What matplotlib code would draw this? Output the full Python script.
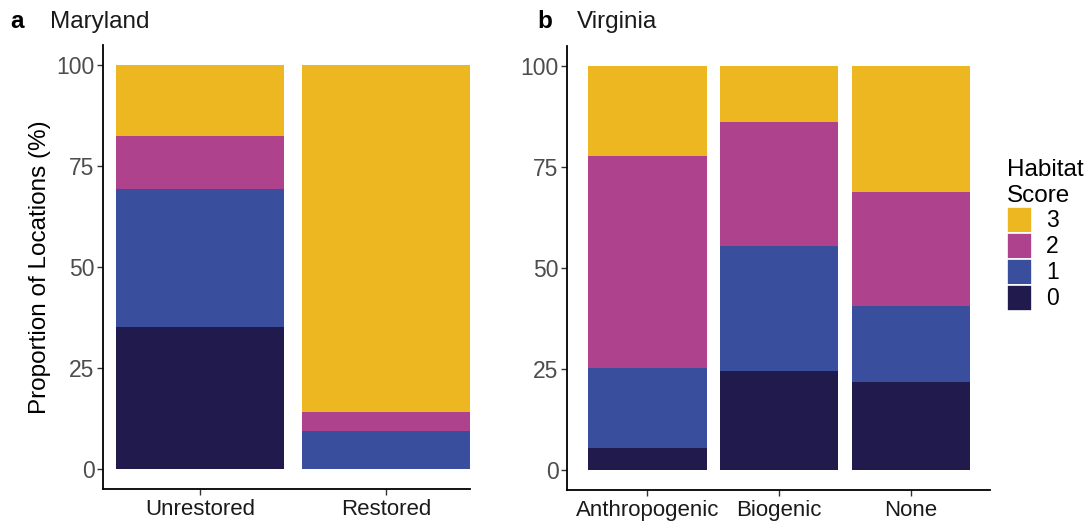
import numpy as np
import matplotlib.pyplot as plt
from matplotlib.patches import Patch

# habitat score proportions (%), score 0..3 bottom to top
md_sites = ["Unrestored", "Restored"]
md_score0 = [35.1, 0.0]
md_score1 = [34.2, 9.4]
md_score2 = [13.1, 4.7]
md_score3 = [17.6, 85.9]

va_sites = ["Anthropogenic", "Biogenic", "None"]
va_score0 = [5.4, 24.5, 21.8]
va_score1 = [19.8, 30.9, 18.8]
va_score2 = [52.5, 30.7, 28.2]
va_score3 = [22.3, 13.9, 31.2]

scores = ["0", "1", "2", "3"]
colors = ["#211B4D", "#3A4E9E", "#AF428C", "#EDB722"]

plt.rcParams['font.family'] = ['Liberation Sans', 'DejaVu Sans']
plt.rcParams['font.size'] = 16

fig = plt.figure(figsize=(10.91, 5.22), dpi=100)
W, H = 1091.0, 522.0
ax_a = fig.add_axes([103 / W, (H - 489) / H, (470 - 103) / W, (489 - 45) / H])
ax_b = fig.add_axes([567 / W, (H - 490) / H, (990 - 567) / W, (490 - 46) / H])


def stack(ax, sites, layers):
    x = np.arange(len(sites))
    bottom = np.zeros(len(sites))
    for vals, c in zip(layers, colors):
        ax.bar(x, vals, width=0.9, bottom=bottom, color=c, linewidth=0)
        bottom = bottom + np.array(vals)
    ax.set_xticks(x)
    ax.set_xticklabels(sites, fontsize=16, color="#1a1a1a")
    ax.set_ylim(-5, 105)
    ax.set_yticks([0, 25, 50, 75, 100])
    ax.tick_params(axis="y", labelsize=16.5, labelcolor="#4D4D4D", color="#333333",
                   length=4, width=1, pad=2)
    ax.tick_params(axis="x", color="#333333", length=4, width=1, pad=3)
    for s in ["top", "right"]:
        ax.spines[s].set_visible(False)
    for s in ["left", "bottom"]:
        ax.spines[s].set_linewidth(1.3)


stack(ax_a, md_sites, [md_score0, md_score1, md_score2, md_score3])
ax_a.set_xlim(-0.52, 1.45)
ax_a.set_ylabel("Proportion of Locations (%)", fontsize=17.5, labelpad=4)

stack(ax_b, va_sites, [va_score0, va_score1, va_score2, va_score3])
ax_b.set_xlim(-0.61, 2.6)

# panel titles
fig.text(10 / W, 1 - 22 / H, "a", fontsize=17.5, fontweight="bold", va="center")
fig.text(50 / W, 1 - 22 / H, "Maryland", fontsize=17.5, va="center", color="#1a1a1a")
fig.text(537 / W, 1 - 22 / H, "b", fontsize=17.5, fontweight="bold", va="center")
fig.text(577 / W, 1 - 22 / H, "Virginia", fontsize=17.5, va="center", color="#1a1a1a")

handles = [Patch(facecolor=c, edgecolor="white", linewidth=1.2) for c in colors[::-1]]
leg = fig.legend(handles, scores[::-1], title="Habitat\nScore", loc="upper left",
                 bbox_to_anchor=(998 / W, 1 - 150 / H), frameon=False,
                 fontsize=16.5, title_fontsize=17.5, handlelength=1.1, handleheight=1.37,
                 labelspacing=0.0, handletextpad=0.6, borderaxespad=0)
leg._legend_box.align = "left"

fig.savefig("out.png", dpi=100)
